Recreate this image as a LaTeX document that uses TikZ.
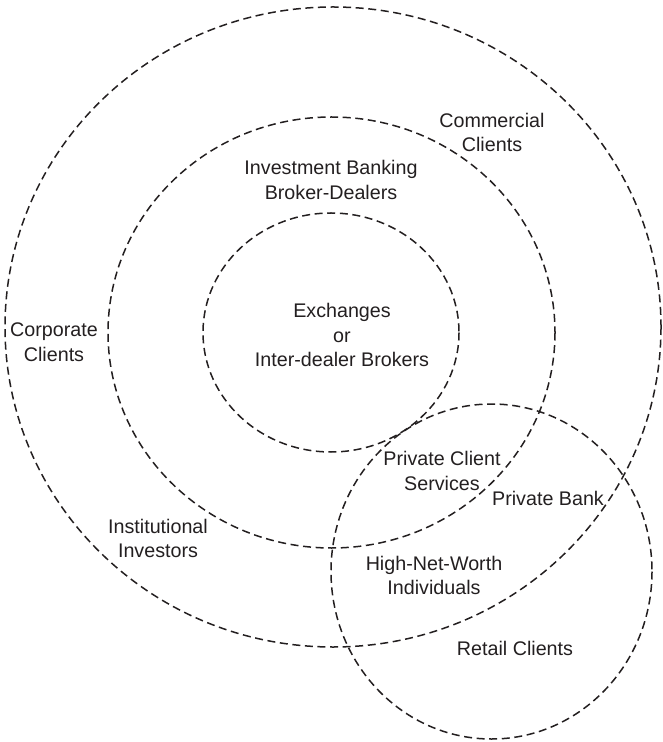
\documentclass[tikz,border=0pt]{standalone}
\usepackage{fontspec}
\setmainfont{Liberation Sans}
\usepackage{xcolor}
\usepackage{tikz}

\definecolor{ink}{HTML}{231F20}
\tikzset{
  zone/.style={draw=ink, line width=0.75pt, dash pattern=on 4pt off 2.3pt},
  tag/.style={align=center, inner sep=0pt, text=ink, font=\fontsize{9.85}{12.25}\selectfont}
}

\begin{document}
\begin{tikzpicture}[x=0.5pt, y=-0.5pt]
\useasboundingbox (0,0) rectangle (662,742) ;

% Circles
\draw[zone] (333, 327) ellipse [x radius=328, y radius=320] ;
\draw[zone] (331.5, 332.5) ellipse [x radius=223.5, y radius=215.5] ;
\draw[zone] (331, 332.5) ellipse [x radius=128, y radius=119.5] ;
\draw[zone] (491.5, 571.5) ellipse [x radius=160.5, y radius=167.5] ;

% Labels
\node[tag] at (492, 132.5) (commercial) {Commercial\\Clients} ;
\node[tag] at (331, 180) (ibank) {Investment Banking\\Broker-Dealers} ;
\node[tag] at (342, 335) (exchanges) {Exchanges\\or\\Inter-dealer Brokers} ;
\node[tag] at (54, 342) (corporate) {Corporate\\Clients} ;
\node[tag] at (442, 471) (pcs) {Private Client\\Services} ;
\node[tag] at (548, 498) (pbank) {Private Bank} ;
\node[tag] at (158, 538.5) (institutional) {Institutional\\Investors} ;
\node[tag] at (434, 575.5) (hnw) {High-Net-Worth\\Individuals} ;
\node[tag] at (515, 648) (retail) {Retail Clients} ;

\end{tikzpicture}
\end{document}
